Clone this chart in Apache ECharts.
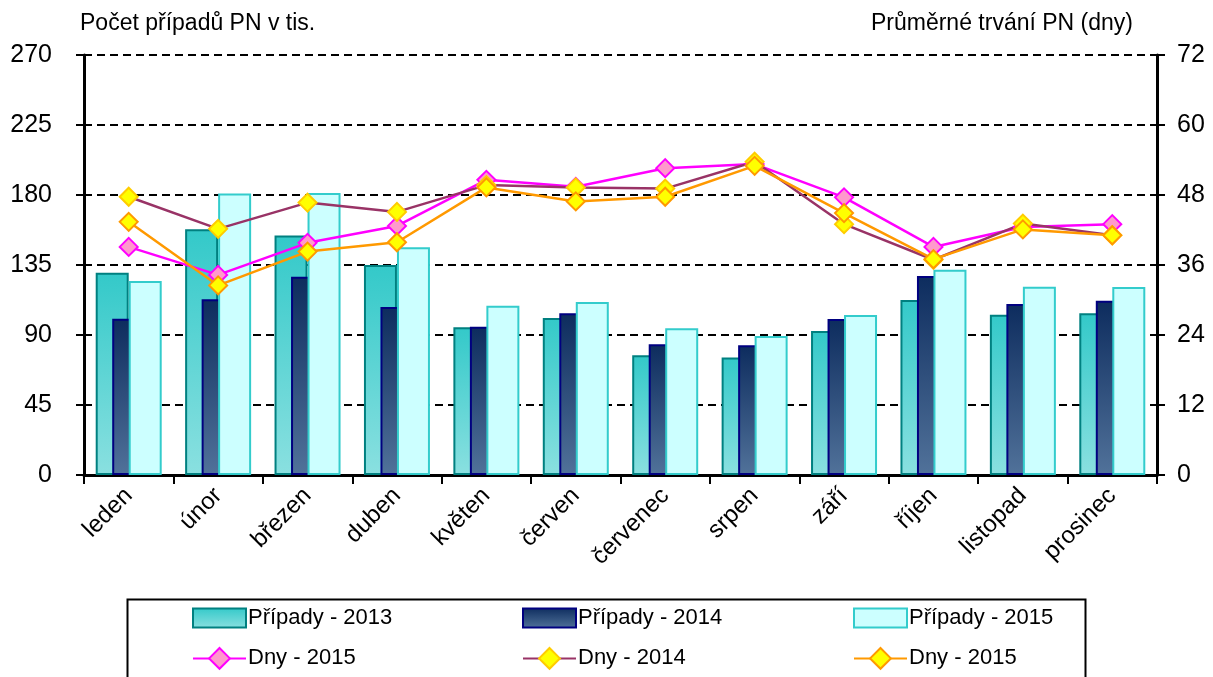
<!DOCTYPE html>
<html>
<head>
<meta charset="utf-8">
<script src="https://cdn.jsdelivr.net/npm/echarts@6/dist/echarts.min.js"></script>
<style>
  html, body { margin: 0; padding: 0; background: #fff; }
  #chart { width: 1213px; height: 677px; }
</style>
</head>
<body>
<div id="chart"></div>
<script>
// mesice
var months = ['leden', 'únor', 'březen', 'duben', 'květen', 'červen', 'červenec', 'srpen', 'září', 'říjen', 'listopad', 'prosinec'];

// pocet pripadu PN v tis. (leva osa)
var pripady2013 = [130, 158, 154, 135, 95, 101, 77, 75.5, 92.5, 112.5, 103, 104];
var pripady2014 = [100.5, 113, 127.5, 108, 95.3, 104, 84, 83.4, 100.3, 128, 110, 112];
var pripady2015 = [124.7, 181, 181.3, 146.4, 108.8, 111.2, 94.3, 89.4, 102.9, 132, 121, 120.9];

// prumerne trvani PN ve dnech (prava osa)
var dny2015a = [39.1, 34.3, 39.8, 42.7, 50.6, 49.4, 52.6, 53.3, 47.6, 39.1, 42.5, 43.0];
var dny2014 = [47.7, 42.2, 46.7, 45.1, 49.7, 49.3, 49.1, 53.7, 43.0, 36.9, 43.1, 41.1];
var dny2015b = [43.4, 32.5, 38.3, 39.9, 49.3, 46.9, 47.7, 53.0, 44.9, 37.0, 42.1, 41.1];

var FONT = '"Liberation Sans", Arial, sans-serif';

function vgrad(top, bottom) {
  return new echarts.graphic.LinearGradient(0, 0, 0, 1, [
    { offset: 0, color: top },
    { offset: 1, color: bottom }
  ]);
}

// jedna polozka legendy = jeden legend komponent (3 sloupce)
function legendItem(name, left, top, isBar) {
  var lg = {
    data: [name],
    left: left,
    top: top,
    orient: 'horizontal',
    itemWidth: 53,
    itemHeight: isBar ? 19 : 26,
    itemGap: 0,
    padding: 0,
    selectedMode: false,
    textStyle: { fontFamily: FONT, fontSize: 22, color: '#000', padding: [0, 0, 0, -3] }
  };
  if (isBar) {
    lg.icon = 'rect';
  }
  return lg;
}

var option = {
  animation: false,
  backgroundColor: '#fff',
  title: [
    {
      text: 'Počet případů PN v tis.',
      left: 80, top: 12, padding: 0,
      textStyle: { fontFamily: FONT, fontSize: 23, fontWeight: 'normal', color: '#000' }
    },
    {
      text: 'Průměrné trvání PN (dny)',
      right: 80, top: 12, padding: 0,
      textStyle: { fontFamily: FONT, fontSize: 23, fontWeight: 'normal', color: '#000' }
    }
  ],
  legend: [
    legendItem('Případy - 2013', 192, 607, true),
    legendItem('Případy - 2014', 522, 607, true),
    legendItem('Případy - 2015', 853, 607, true),
    legendItem('Dny - 2015 ', 192, 647, false),
    legendItem('Dny - 2014', 522, 647, false),
    legendItem('Dny - 2015', 853, 647, false)
  ],
  graphic: [
    {
      type: 'rect',
      left: 125, top: 597,
      shape: { width: 958, height: 100 },
      style: { fill: 'none', stroke: '#000', lineWidth: 2 },
      z: 100
    }
  ],
  grid: { left: 84, right: 56, top: 55, bottom: 202, containLabel: false },
  xAxis: [
    {
      type: 'category',
      data: months,
      boundaryGap: true,
      axisLine: { lineStyle: { color: '#000', width: 3 } },
      axisTick: { show: true, length: 9, lineStyle: { color: '#000', width: 2 } },
      axisLabel: { rotate: 45, margin: 17, fontFamily: FONT, fontSize: 24, color: '#000' }
    },
    {
      // horni okraj plochy grafu
      type: 'category',
      data: months,
      position: 'top',
      axisLine: { lineStyle: { color: '#000', width: 2 } },
      axisTick: { show: false },
      axisLabel: { show: false }
    }
  ],
  yAxis: [
    {
      type: 'value',
      min: 0, max: 270, interval: 45,
      axisLine: { show: true, lineStyle: { color: '#000', width: 3 } },
      axisTick: { show: true, length: 8, lineStyle: { color: '#000', width: 2 } },
      axisLabel: { margin: 32, fontFamily: FONT, fontSize: 25, color: '#000' },
      splitLine: { show: true, lineStyle: { color: '#000', width: 2, type: [8, 5] } }
    },
    {
      type: 'value',
      min: 0, max: 72, interval: 12,
      position: 'right',
      axisLine: { show: true, lineStyle: { color: '#000', width: 3 } },
      axisTick: { show: true, length: 8, lineStyle: { color: '#000', width: 2 } },
      axisLabel: { margin: 20, fontFamily: FONT, fontSize: 25, color: '#000' },
      splitLine: { show: false }
    }
  ],
  series: [
    {
      name: 'Případy - 2013',
      type: 'bar',
      yAxisIndex: 0,
      data: pripady2013,
      barWidth: 33,
      barGap: '-50%',
      itemStyle: { color: vgrad('#33c9c9', '#8ae0e0'), borderColor: '#008080', borderWidth: 2 }
    },
    {
      name: 'Případy - 2014',
      type: 'bar',
      yAxisIndex: 0,
      data: pripady2014,
      barWidth: 33,
      barGap: '-50%',
      itemStyle: { color: vgrad('#0d2c5e', '#51729a'), borderColor: '#000080', borderWidth: 2 }
    },
    {
      name: 'Případy - 2015',
      type: 'bar',
      yAxisIndex: 0,
      data: pripady2015,
      barWidth: 33,
      barGap: '-50%',
      itemStyle: { color: '#ccffff', borderColor: '#33cccc', borderWidth: 2 }
    },
    {
      name: 'Dny - 2015 ',
      type: 'line',
      yAxisIndex: 1,
      data: dny2015a,
      symbol: 'diamond',
      symbolSize: 18,
      lineStyle: { color: '#ff00ff', width: 2.5 },
      itemStyle: { color: '#ff99cc', borderColor: '#ff00ff', borderWidth: 2 }
    },
    {
      name: 'Dny - 2014',
      type: 'line',
      yAxisIndex: 1,
      data: dny2014,
      symbol: 'diamond',
      symbolSize: 18,
      lineStyle: { color: '#993366', width: 2.5 },
      itemStyle: { color: '#ffff00', borderColor: '#ffcc00', borderWidth: 2 }
    },
    {
      name: 'Dny - 2015',
      type: 'line',
      yAxisIndex: 1,
      data: dny2015b,
      symbol: 'diamond',
      symbolSize: 18,
      lineStyle: { color: '#ff9900', width: 2.5 },
      itemStyle: { color: '#ffff00', borderColor: '#ff9900', borderWidth: 2 }
    }
  ]
};

var myChart = echarts.init(document.getElementById('chart'));
myChart.setOption(option);
</script>
</body>
</html>
